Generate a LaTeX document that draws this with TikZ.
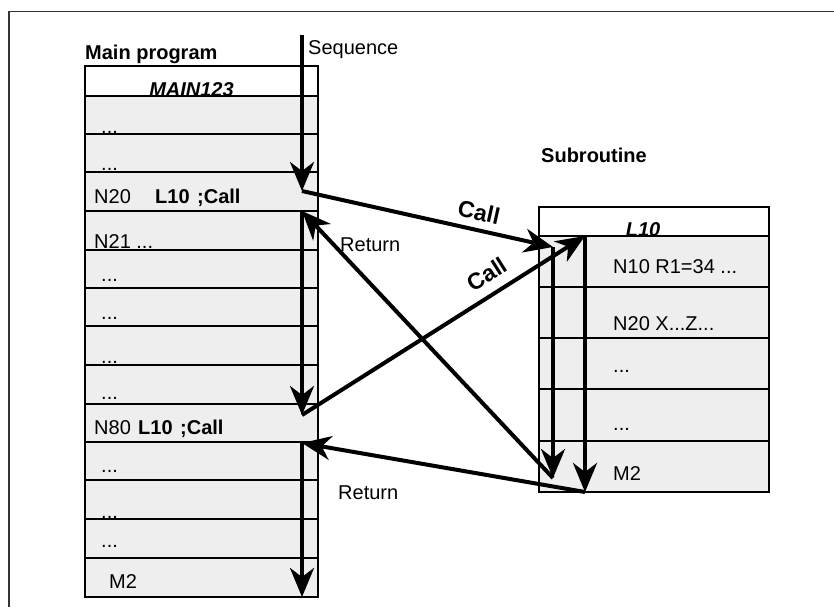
\documentclass[tikz,border=0pt]{standalone}
\usepackage{fontspec}
\setmainfont{Liberation Sans}
\usetikzlibrary{arrows.meta}
\definecolor{rowgray}{HTML}{EEEEEE}
\begin{document}
\begin{tikzpicture}[x=1pt,y=-1pt,
  rowbox/.style={draw=black, line width=2.5pt, fill=rowgray},
  hdrbox/.style={draw=black, line width=2.5pt, fill=white},
  flow/.style={line width=4pt, -{Stealth[length=29pt,width=24pt,inset=9pt]}},
  txt/.style={anchor=base west, inner sep=0pt, font=\fontsize{20}{22}\selectfont},
  btxt/.style={txt, font=\fontsize{20}{22}\selectfont\bfseries},
  hdrtxt/.style={anchor=base, inner sep=0pt, font=\fontsize{20}{22}\selectfont\bfseries\itshape},
  calltxt/.style={anchor=center, inner sep=0pt, font=\fontsize{23}{25}\selectfont\bfseries}
]
\useasboundingbox (0,0) rectangle (834,607);
% outer frame (partly visible)
\draw[line width=1.5pt, black!80] (9,607) -- (9,11.5) -- (834,11.5);

% ---------- Main program ----------
\node[btxt] (mainlbl) at (85,59.5) {Main program};
\draw[hdrbox] (85,66) rectangle (318,96);
\node[hdrtxt] (mainname) at (191.5,96.5) {MAIN123};
\foreach \a/\b in {96/134,134/172,172/211,211/250,250/288,288/326,326/365,365/404,404/442,442/480,480/519,519/558,558/597}
  \draw[rowbox] (85,\a) rectangle (318,\b);

\node[txt] (m1) at (101,133) {...};
\node[txt] (m2) at (101,170) {...};
\node[txt] (m3a) at (94,203.5) {N20};
\node[btxt] (m3b) at (155,203.5) {L10};
\node[btxt] (m3c) at (197,203.5) {;Call};
\node[txt] (m4) at (94,248) {N21 ...};
\node[txt] (m5) at (101,281) {...};
\node[txt] (m6) at (101,319) {...};
\node[txt] (m7) at (101,363) {...};
\node[txt] (m8) at (101,399) {...};
\node[txt] (m9a) at (94,434.5) {N80};
\node[btxt] (m9b) at (138,434.5) {L10};
\node[btxt] (m9c) at (180,434.5) {;Call};
\node[txt] (m10) at (101,472) {...};
\node[txt] (m11) at (101,518) {...};
\node[txt] (m12) at (101,547) {...};
\node[txt] (m13) at (109,588) {M2};

% ---------- Subroutine ----------
\node[btxt] (sublbl) at (541,162.5) {Subroutine};
\draw[hdrbox] (539,207) rectangle (769,236);
\node[hdrtxt] (subname) at (643,236.5) {L10};
\foreach \a/\b in {236/287,287/338,338/389,389/441,441/492}
  \draw[rowbox] (539,\a) rectangle (769,\b);
\node[txt] (s1) at (613,273.5) {N10 R1=34 ...};
\node[txt] (s2) at (613,330) {N20 X...Z...};
\node[txt] (s3) at (613,372) {...};
\node[txt] (s4) at (613,430) {...};
\node[txt] (s5) at (613,480) {M2};

% ---------- labels ----------
\node[txt] (seqlbl) at (308,54.5) {Sequence};
\node[txt] (ret1) at (340,251.5) {Return};
\node[txt] (ret2) at (338,499.5) {Return};
\node[calltxt, rotate=-12.6] (call1) at (479,212) {Call};
\node[calltxt, rotate=32.3] (call2) at (487,274) {Call};

% ---------- flow points ----------
\coordinate (seqtop) at (302,35);
\coordinate (c1start) at (302,191);
\coordinate (s1top) at (553,247);
\coordinate (s1bot) at (553,478);
\coordinate (r1end) at (302,211);
\coordinate (c2start) at (302,415);
\coordinate (s2top) at (585,236);
\coordinate (s2bot) at (585,492);
\coordinate (r2end) at (302,443);
\coordinate (mend) at (302,597);

\draw[flow] (seqtop) -- (c1start);
\draw[flow] (c1start) -- (s1top);
\draw[flow] (s1top) -- (s1bot);
\draw[flow] (s1bot) -- (r1end);
\draw[flow] (r1end) -- (c2start);
\draw[flow] (c2start) -- (s2top);
\draw[flow] (s2top) -- (s2bot);
\draw[flow] (s2bot) -- (r2end);
\draw[flow] (r2end) -- (mend);
\end{tikzpicture}
\end{document}
